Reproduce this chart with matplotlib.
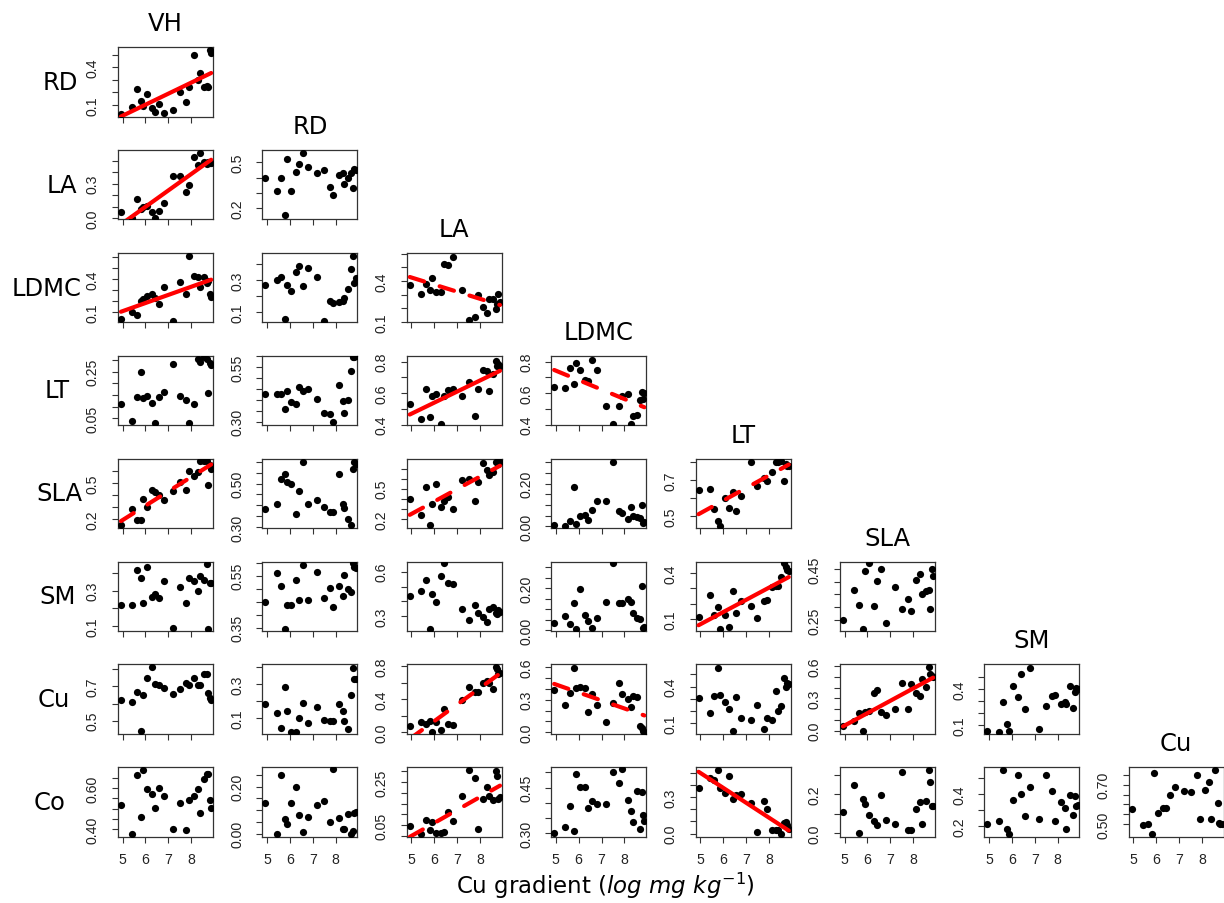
import numpy as np
import matplotlib
matplotlib.use("Agg")
import matplotlib.pyplot as plt

# ---------------- data ----------------
x_cu = [4.93, 5.42, 5.62, 5.80, 5.88, 6.07, 6.28, 6.42, 6.58, 6.80, 7.20,
        7.50, 7.77, 7.90, 8.14, 8.30, 8.38, 8.55, 8.68, 8.75, 8.80, 8.87]

row_traits = ['RD', 'LA', 'LDMC', 'LT', 'SLA', 'SM', 'Cu', 'Co']
col_traits = ['VH', 'RD', 'LA', 'LDMC', 'LT', 'SLA', 'SM', 'Cu']
x_tick_values = [5, 6, 7, 8]
x_label_text = r'Cu gradient ($\mathit{log\ mg\ kg^{-1}}$)'

y_RD_VH = [0.03,0.08,0.23,0.13,0.095,0.19,0.075,0.04,0.11,0.035,0.06,0.2,0.12,0.245,0.495,0.3,0.35,0.24,0.25,0.245,0.54,0.515]
y_LA_VH = [0.053,0.0,0.17,0.08,0.10,0.11,0.056,0.006,0.065,0.13,0.37,0.37,0.23,0.29,0.53,0.46,0.565,0.49,0.47,0.49,0.48,0.48]
y_LA_RD = [0.4,0.31,0.4,0.155,0.52,0.31,0.44,0.49,0.56,0.47,0.43,0.45,0.34,0.29,0.42,0.43,0.36,0.4,0.43,0.33,0.46,0.45]
y_LDMC_VH = [0.038,0.1,0.075,0.2,0.215,0.245,0.26,0.225,0.175,0.33,0.02,0.37,0.26,0.61,0.43,0.42,0.33,0.42,0.36,0.38,0.26,0.24]
y_LDMC_RD = [0.266,0.3,0.315,0.055,0.27,0.23,0.35,0.385,0.26,0.375,0.315,0.047,0.17,0.155,0.16,0.17,0.19,0.24,0.365,0.45,0.28,0.31]
y_LDMC_LA = [0.368,0.307,0.376,0.334,0.424,0.32,0.32,0.527,0.515,0.578,0.332,0.115,0.139,0.298,0.212,0.163,0.266,0.27,0.193,0.229,0.307,0.25]
y_LT_VH = [0.11,0.037,0.142,0.247,0.138,0.146,0.117,0.03,0.142,0.164,0.281,0.146,0.13,0.03,0.11,0.305,0.291,0.31,0.305,0.16,0.288,0.276]
y_LT_RD = [0.425,0.425,0.425,0.36,0.44,0.39,0.383,0.458,0.442,0.45,0.406,0.34,0.336,0.297,0.469,0.395,0.34,0.40,0.531,0.597,0.597,0.6]
y_LT_LA = [0.533,0.438,0.627,0.448,0.581,0.596,0.406,0.581,0.617,0.627,0.581,0.669,0.453,0.627,0.749,0.743,0.613,0.722,0.806,0.775,0.785,0.77]
y_LT_LDMC = [0.642,0.634,0.758,0.658,0.789,0.747,0.684,0.68,0.811,0.749,0.52,0.406,0.516,0.581,0.596,0.406,0.455,0.459,0.558,0.606,0.564,0.6]
y_SLA_VH = [0.15,0.283,0.197,0.197,0.372,0.302,0.445,0.425,0.403,0.356,0.434,0.508,0.445,0.597,0.558,0.591,0.68,0.68,0.68,0.481,0.646,0.619]
y_SLA_RD = [0.382,0.405,0.523,0.542,0.508,0.497,0.362,0.466,0.6,0.405,0.423,0.392,0.369,0.369,0.546,0.408,0.389,0.338,0.311,0.565,0.598,0.59]
y_SLA_LA = [0.4,0.24,0.517,0.133,0.35,0.543,0.317,0.373,0.417,0.293,0.583,0.593,0.373,0.567,0.757,0.683,0.64,0.667,0.767,0.767,0.75,0.77]
y_SLA_LDMC = [0.008,0.002,0.025,0.184,0.009,0.048,0.055,0.031,0.078,0.117,0.117,0.302,0.07,0.063,0.036,0.092,0.047,0.044,0.039,0.098,0.017,0.02]
y_SLA_LT = [0.644,0.65,0.541,0.476,0.447,0.6,0.545,0.634,0.528,0.612,0.8,0.667,0.713,0.694,0.747,0.8,0.8,0.805,0.694,0.789,0.78,0.78]
y_SM_VH = [0.22,0.22,0.418,0.37,0.228,0.433,0.266,0.281,0.256,0.353,0.09,0.319,0.228,0.372,0.353,0.296,0.385,0.36,0.452,0.085,0.342,0.342]
y_SM_RD = [0.447,0.56,0.509,0.344,0.438,0.438,0.533,0.456,0.591,0.456,0.563,0.462,0.502,0.431,0.509,0.47,0.554,0.498,0.488,0.597,0.582,0.58]
y_SM_LA = [0.434,0.468,0.543,0.218,0.452,0.395,0.57,0.657,0.525,0.52,0.35,0.277,0.373,0.323,0.293,0.259,0.35,0.361,0.323,0.316,0.343,0.33]
y_SM_LDMC = [0.037,0.066,0.029,0.129,0.008,0.198,0.073,0.045,0.013,0.058,0.137,0.319,0.129,0.129,0.15,0.137,0.082,0.061,0.053,0.213,0.013,0.015]
y_SM_LT = [0.116,0.256,0.127,0.178,0.038,0.127,0.051,0.282,0.14,0.216,0.184,0.104,0.216,0.222,0.311,0.318,0.318,0.373,0.467,0.438,0.422,0.416]
y_SM_SLA = [0.251,0.367,0.31,0.213,0.443,0.473,0.304,0.401,0.451,0.237,0.379,0.293,0.331,0.287,0.405,0.431,0.351,0.363,0.367,0.293,0.45,0.421]
y_Cu_VH = [0.622,0.612,0.669,0.438,0.652,0.752,0.813,0.717,0.708,0.69,0.659,0.685,0.723,0.71,0.752,0.708,0.708,0.775,0.775,0.664,0.632,0.62]
y_Cu_RD = [0.183,0.129,0.044,0.284,0.141,0.023,0.023,0.1,0.189,0.073,0.168,0.09,0.083,0.083,0.183,0.141,0.083,0.038,0.237,0.396,0.329,0.33]
y_Cu_LA = [0.072,0.128,0.1,0.14,0.008,0.12,0.028,0.28,0.1,0.088,0.388,0.548,0.488,0.488,0.592,0.62,0.6,0.528,0.792,0.76,0.708,0.72]
y_Cu_LDMC = [0.39,0.25,0.367,0.596,0.407,0.419,0.407,0.19,0.352,0.25,0.092,0.266,0.459,0.352,0.312,0.229,0.336,0.33,0.061,0.04,0.015,0.0]
y_Cu_LT = [0.302,0.182,0.318,0.555,0.332,0.275,0.214,0.032,0.31,0.138,0.127,0.247,0.051,0.14,0.125,0.364,0.196,0.237,0.466,0.4,0.433,0.42]
y_Cu_SLA = [0.04,0.086,0.163,0.0,0.169,0.178,0.345,0.378,0.169,0.148,0.2,0.44,0.2,0.431,0.345,0.323,0.477,0.409,0.594,0.523,0.508,0.5]
y_Cu_SM = [0.053,0.044,0.294,0.108,0.053,0.428,0.331,0.525,0.233,0.58,0.067,0.261,0.339,0.35,0.275,0.294,0.275,0.428,0.239,0.378,0.406,0.4]
y_Co_VH = [0.516,0.376,0.665,0.46,0.69,0.594,0.573,0.503,0.6,0.561,0.403,0.529,0.395,0.544,0.561,0.594,0.479,0.645,0.669,0.669,0.544,0.503]
y_Co_RD = [0.131,0.0,0.25,0.061,0.042,0.13,0.2,0.078,0.007,0.071,0.123,0.137,0.049,0.273,0.064,0.021,0.021,0.085,0.0,0.01,0.088,0.09]
y_Co_LA = [0.045,0.012,0.076,0.027,0.065,0.015,0.015,0.02,0.113,0.068,0.186,0.306,0.268,0.035,0.171,0.226,0.186,0.168,0.301,0.278,0.171,0.18]
y_Co_LDMC = [0.3,0.32,0.389,0.308,0.496,0.454,0.454,0.383,0.405,0.395,0.395,0.501,0.465,0.51,0.41,0.372,0.338,0.439,0.316,0.436,0.36,0.34]
y_Co_LT = [0.374,0.459,0.443,0.527,0.374,0.333,0.478,0.287,0.314,0.328,0.254,0.014,0.265,0.199,0.027,0.027,0.027,0.0,0.09,0.096,0.068,0.041]
y_Co_SLA = [0.11,0.246,0.0,0.178,0.149,0.093,0.063,0.042,0.195,0.071,0.051,0.314,0.017,0.02,0.127,0.161,0.051,0.166,0.327,0.266,0.141,0.14]
y_Co_SM = [0.214,0.231,0.55,0.179,0.148,0.359,0.519,0.4,0.261,0.441,0.246,0.519,0.417,0.231,0.352,0.311,0.179,0.393,0.269,0.385,0.327,0.33]
y_Co_Cu = [0.575,0.495,0.5,0.45,0.758,0.558,0.582,0.582,0.648,0.687,0.667,0.662,0.748,0.528,0.675,0.712,0.528,0.773,0.608,0.508,0.503,0.5]

panel_y = {
    (0, 0): y_RD_VH,
    (1, 0): y_LA_VH, (1, 1): y_LA_RD,
    (2, 0): y_LDMC_VH, (2, 1): y_LDMC_RD, (2, 2): y_LDMC_LA,
    (3, 0): y_LT_VH, (3, 1): y_LT_RD, (3, 2): y_LT_LA, (3, 3): y_LT_LDMC,
    (4, 0): y_SLA_VH, (4, 1): y_SLA_RD, (4, 2): y_SLA_LA, (4, 3): y_SLA_LDMC, (4, 4): y_SLA_LT,
    (5, 0): y_SM_VH, (5, 1): y_SM_RD, (5, 2): y_SM_LA, (5, 3): y_SM_LDMC, (5, 4): y_SM_LT, (5, 5): y_SM_SLA,
    (6, 0): y_Cu_VH, (6, 1): y_Cu_RD, (6, 2): y_Cu_LA, (6, 3): y_Cu_LDMC, (6, 4): y_Cu_LT,
    (6, 5): y_Cu_SLA, (6, 6): y_Cu_SM,
    (7, 0): y_Co_VH, (7, 1): y_Co_RD, (7, 2): y_Co_LA, (7, 3): y_Co_LDMC, (7, 4): y_Co_LT,
    (7, 5): y_Co_SLA, (7, 6): y_Co_SM, (7, 7): y_Co_Cu,
}

# y range shown, y tick values, and which tick labels are printed
panel_ylim = {
    (0, 0): (0.008, 0.56),
    (1, 0): (-0.009, 0.594), (1, 1): (0.127, 0.582),
    (2, 0): (0.007, 0.637), (2, 1): (0.036, 0.468), (2, 2): (0.098, 0.607),
    (3, 0): (0.021, 0.3175), (3, 1): (0.284, 0.6016), (3, 2): (0.396, 0.838), (3, 3): (0.396, 0.838),
    (4, 0): (0.128, 0.702), (4, 1): (0.295, 0.615), (4, 2): (0.107, 0.80), (4, 3): (-0.008, 0.317), (4, 4): (0.434, 0.819),
    (5, 0): (0.071, 0.465), (5, 1): (0.337, 0.604), (5, 2): (0.202, 0.668), (5, 3): (-0.003, 0.327),
    (5, 4): (0.022, 0.476), (5, 5): (0.207, 0.479),
    (6, 0): (0.423, 0.829), (6, 1): (0.009, 0.415), (6, 2): (-0.02, 0.82), (6, 3): (-0.015, 0.627),
    (6, 4): (0.01, 0.582), (6, 5): (-0.031, 0.615), (6, 6): (0.025, 0.608),
    (7, 0): (0.363, 0.702), (7, 1): (-0.014, 0.282), (7, 2): (-0.003, 0.317), (7, 3): (0.289, 0.517),
    (7, 4): (-0.027, 0.546), (7, 5): (-0.017, 0.339), (7, 6): (0.132, 0.566), (7, 7): (0.437, 0.787),
}

panel_yticks = {
    (0, 0): [0.1, 0.2, 0.3, 0.4, 0.5],
    (1, 0): [0.0, 0.1, 0.2, 0.3, 0.4, 0.5], (1, 1): [0.2, 0.3, 0.4, 0.5],
    (2, 0): [0.1, 0.2, 0.3, 0.4, 0.5, 0.6], (2, 1): [0.1, 0.2, 0.3, 0.4], (2, 2): [0.1, 0.2, 0.3, 0.4, 0.5, 0.6],
    (3, 0): [0.05, 0.10, 0.15, 0.20, 0.25, 0.30], (3, 1): [0.30, 0.35, 0.40, 0.45, 0.50, 0.55, 0.60],
    (3, 2): [0.4, 0.5, 0.6, 0.7, 0.8], (3, 3): [0.4, 0.5, 0.6, 0.7, 0.8],
    (4, 0): [0.2, 0.3, 0.4, 0.5, 0.6], (4, 1): [0.30, 0.35, 0.40, 0.45, 0.50, 0.55, 0.60],
    (4, 2): [0.2, 0.3, 0.4, 0.5, 0.6, 0.7], (4, 3): [0.0, 0.05, 0.10, 0.15, 0.20, 0.25, 0.30],
    (4, 4): [0.5, 0.6, 0.7, 0.8],
    (5, 0): [0.1, 0.2, 0.3, 0.4], (5, 1): [0.35, 0.40, 0.45, 0.50, 0.55, 0.60], (5, 2): [0.3, 0.4, 0.5, 0.6],
    (5, 3): [0.0, 0.05, 0.10, 0.15, 0.20, 0.25, 0.30], (5, 4): [0.1, 0.2, 0.3, 0.4],
    (5, 5): [0.25, 0.30, 0.35, 0.40, 0.45],
    (6, 0): [0.5, 0.6, 0.7, 0.8], (6, 1): [0.1, 0.2, 0.3, 0.4], (6, 2): [0.0, 0.2, 0.4, 0.6, 0.8],
    (6, 3): [0.0, 0.1, 0.2, 0.3, 0.4, 0.5, 0.6], (6, 4): [0.1, 0.2, 0.3, 0.4, 0.5],
    (6, 5): [0.0, 0.1, 0.2, 0.3, 0.4, 0.5, 0.6], (6, 6): [0.1, 0.2, 0.3, 0.4, 0.5],
    (7, 0): [0.40, 0.45, 0.50, 0.55, 0.60, 0.65], (7, 1): [0.0, 0.05, 0.10, 0.15, 0.20, 0.25],
    (7, 2): [0.0, 0.05, 0.10, 0.15, 0.20, 0.25, 0.30], (7, 3): [0.30, 0.35, 0.40, 0.45, 0.50],
    (7, 4): [0.0, 0.1, 0.2, 0.3, 0.4, 0.5], (7, 5): [0.0, 0.1, 0.2, 0.3], (7, 6): [0.2, 0.3, 0.4, 0.5],
    (7, 7): [0.50, 0.55, 0.60, 0.65, 0.70, 0.75],
}

panel_ylabels = {
    (0, 0): ['0.1', '0.4'],
    (1, 0): ['0.0', '0.3'], (1, 1): ['0.2', '0.5'],
    (2, 0): ['0.1', '0.4'], (2, 1): ['0.1', '0.3'], (2, 2): ['0.1', '0.4'],
    (3, 0): ['0.05', '0.25'], (3, 1): ['0.30', '0.55'], (3, 2): ['0.4', '0.6', '0.8'], (3, 3): ['0.4', '0.6', '0.8'],
    (4, 0): ['0.2', '0.5'], (4, 1): ['0.30', '0.50'], (4, 2): ['0.2', '0.5'], (4, 3): ['0.00', '0.20'], (4, 4): ['0.5', '0.7'],
    (5, 0): ['0.1', '0.3'], (5, 1): ['0.35', '0.55'], (5, 2): ['0.3', '0.6'], (5, 3): ['0.00', '0.20'],
    (5, 4): ['0.1', '0.4'], (5, 5): ['0.25', '0.45'],
    (6, 0): ['0.5', '0.7'], (6, 1): ['0.1', '0.3'], (6, 2): ['0.0', '0.4', '0.8'], (6, 3): ['0.0', '0.3', '0.6'],
    (6, 4): ['0.1', '0.4'], (6, 5): ['0.0', '0.3', '0.6'], (6, 6): ['0.1', '0.4'],
    (7, 0): ['0.40', '0.60'], (7, 1): ['0.00', '0.20'], (7, 2): ['0.05', '0.25'], (7, 3): ['0.30', '0.45'],
    (7, 4): ['0.0', '0.3'], (7, 5): ['0.0', '0.2'], (7, 6): ['0.2', '0.4'], (7, 7): ['0.50', '0.70'],
}

# fitted trend lines: significant (solid) or marginal (dashed)
panel_trend = {
    (0, 0): 'solid', (1, 0): 'solid', (2, 0): 'solid', (2, 2): 'dashed',
    (3, 2): 'solid', (3, 3): 'dashed', (4, 0): 'dashed', (4, 2): 'dashed',
    (4, 4): 'dashed', (5, 4): 'solid', (6, 2): 'dashed', (6, 3): 'dashed',
    (6, 5): 'solid', (7, 2): 'dashed', (7, 4): 'solid',
}

# ---------------- layout (pixels) ----------------
W, H = 1224, 904
col_left0, col_step, pw = 118.0, 144.4, 95.0
row_top0, row_step, ph = 48.0, 102.9, 69.5
row_label_x = [60, 62, 47, 57, 59, 58, 54, 50]

fig = plt.figure(figsize=(W / 100, H / 100), dpi=100)
fig.patch.set_facecolor('white')

tick_font = 'Liberation Sans'
tick_size = 10.2
x = np.array(x_cu)

for (r, c), yvals in panel_y.items():
    left = col_left0 + c * col_step
    top = row_top0 + r * row_step
    ax = fig.add_axes([left / W, 1 - (top + ph) / H, pw / W, ph / H])
    y = np.array(yvals)
    ax.plot(x, y, 'o', color='black', ms=5.2, mew=0, zorder=3, clip_on=True)
    style = panel_trend.get((r, c))
    if style is not None:
        coef = np.polyfit(x, y, 1)
        xs = np.array([x.min(), x.max()])
        ls = '-' if style == 'solid' else (0, (3.6, 3.9))
        ax.plot(xs, np.polyval(coef, xs), color='#ff0000', lw=3.0, ls=ls,
                solid_capstyle='round', dash_capstyle='round', zorder=4)
    ax.set_xlim(4.8, 8.95)
    ax.set_ylim(*panel_ylim[(r, c)])
    ax.set_xticks(x_tick_values)
    if r == 7:
        ax.set_xticklabels([str(v) for v in x_tick_values], fontsize=tick_size,
                           family=tick_font, color='#222222')
    else:
        ax.set_xticklabels([])
    ticks = panel_yticks[(r, c)]
    shown = panel_ylabels[(r, c)]
    labels = []
    for t in ticks:
        lab = [s for s in shown if abs(float(s) - t) < 1e-9]
        labels.append(lab[0] if lab else '')
    ax.set_yticks(ticks)
    ax.set_yticklabels(labels, rotation=90, va='center', ha='right',
                       fontsize=tick_size, family=tick_font, color='#222222')
    ax.tick_params(axis='both', direction='out', length=4, width=0.8, color='#333333')
    ax.tick_params(axis='y', pad=9)
    ax.tick_params(axis='x', pad=7)
    for sp in ax.spines.values():
        sp.set_linewidth(0.9)
        sp.set_color('#333333')

# column titles
for c, name in enumerate(col_traits):
    cx = col_left0 + c * col_step + pw / 2
    ty = row_top0 + c * row_step - 24
    fig.text(cx / W, 1 - ty / H, name, ha='center', va='center',
             fontsize=17.5, family='DejaVu Sans')

# row labels
for r, name in enumerate(row_traits):
    cy = row_top0 + r * row_step + ph / 2
    fig.text(row_label_x[r] / W, 1 - cy / H, name, ha='center', va='center',
             fontsize=17.5, family='DejaVu Sans')

fig.text(605 / W, 1 - 886 / H, x_label_text, ha='center', va='center',
         fontsize=16.5, family='DejaVu Sans')

fig.savefig('out.png', dpi=100, facecolor='white')
